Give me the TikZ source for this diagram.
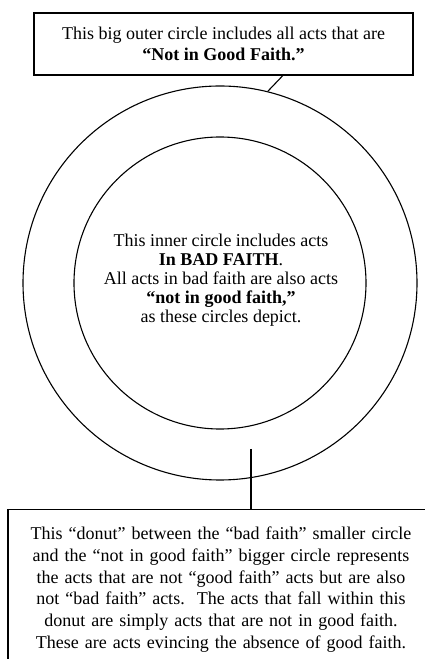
\documentclass[tikz,border=0pt]{standalone}
\usepackage{fontspec}
\setmainfont{Liberation Serif}
\begin{document}
\begin{tikzpicture}[x=1pt,y=1pt,line width=1.1pt,
  notebox/.style={draw,rectangle,align=center,inner sep=0pt,font=\fontsize{18}{21}\selectfont},
  ring/.style={draw,circle,inner sep=0pt}]
% Fix the page size
\useasboundingbox (0,0) rectangle (425,659);
\clip (0,0) rectangle (425,659);
% Draw the two circles
\node[ring, minimum size=394] (outer) at (220,376) {};
\node[ring, minimum size=292] (inner) at (220,376) {};
% Text inside the inner circle
\node[align=center, font=\fontsize{18}{19}\selectfont] (innertext) at (221,379)
  {This inner circle includes acts\\
   \textbf{In BAD FAITH}.\\
   All acts in bad faith are also acts\\
   \textbf{“not in good faith,”}\\
   as these circles depict.};
% Box above, pointing at the outer circle
\node[notebox, minimum width=379, minimum height=62] (topbox) at (223.5,615)
  {This big outer circle includes all acts that are\\
   \textbf{“Not in Good Faith.”}};
\draw (topbox.-28) -- (outer.76);
% Box below, pointing into the donut
\node[notebox, anchor=north, text width=412, inner xsep=7, inner ysep=17.5,
  font=\fontsize{18}{21.7}\selectfont] (donutbox) at (221,150)
  {This “donut” between the “bad faith” smaller circle\\
   and the “not in good faith” bigger circle represents\\
   the acts that are not “good faith” acts but are also\\
   not “bad faith” acts.\ \ The acts that fall within this\\
   donut are simply acts that are not in good faith.\\
   These are acts evincing the absence of good faith.};
\coordinate (donutpin) at (251,210);
\draw (donutpin) -- (donutpin |- donutbox.north);
\end{tikzpicture}
\end{document}
